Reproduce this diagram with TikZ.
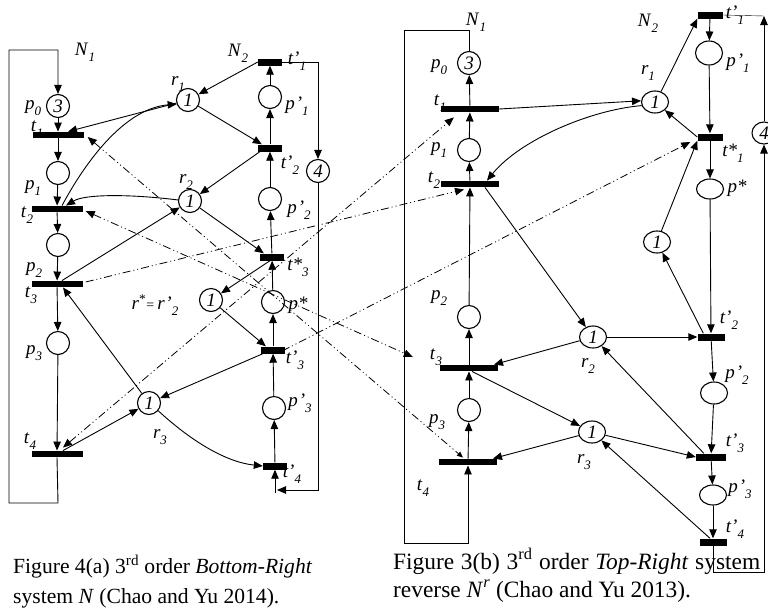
\documentclass[tikz,border=0pt]{standalone}
\usepackage{fontspec}
\setmainfont{Liberation Serif}
\usetikzlibrary{arrows.meta,shapes.geometric,calc}
\newcommand\lsb[1]{\raisebox{-0.3em}{\fontsize{13}{13}\selectfont\itshape #1}}
\newcommand\lbl[2]{\textit{#1}\lsb{#2}}
\begin{document}
\begin{tikzpicture}[x=1pt,y=-1pt,
  pl/.style={circle,draw,line width=1.1pt,minimum size=23pt,inner sep=0pt,font=\fontsize{19}{19}\selectfont\itshape},
  pe/.style={ellipse,draw,line width=1.1pt,minimum width=27pt,minimum height=22pt,inner sep=0pt,font=\fontsize{19}{19}\selectfont\itshape},
  bar/.style={fill=black,inner sep=0pt,minimum width=51pt,minimum height=6.5pt},
  wbar/.style={bar,minimum width=58pt},
  sbar/.style={fill=black,inner sep=0pt,minimum width=24pt,minimum height=7pt},
  lab/.style={inner sep=0pt,font=\fontsize{19}{19}\selectfont},
  captext/.style={inner sep=0pt,anchor=base west,font=\fontsize{21.6}{22}\selectfont},
  captextb/.style={inner sep=0pt,anchor=base west,font=\fontsize{23.4}{24}\selectfont},
  arc/.style={-{Triangle[length=9pt,width=7.5pt]},line width=0.9pt},
  dd/.style={line width=0.8pt,dash pattern=on 8pt off 3pt on 1pt off 3pt on 1pt off 3pt},
  ddto/.style={dd,-{Triangle[length=9pt,width=7.5pt]}},
  ddboth/.style={dd,{Triangle[length=9pt,width=7.5pt]}-{Triangle[length=9pt,width=7.5pt]}},
  ddboths/.style={dd,{Triangle[length=9pt,width=7.5pt]}-{Triangle[length=6pt,width=5pt]}}
]
\useasboundingbox (0,0) rectangle (768,614);

% ===== Left figure: N1 =====
\node[pl] (p0L) at (58,106) {3};
\node[bar] (t1L) at (58,135) {};
\node[pl] (p1L) at (58,173) {};
\node[bar] (t2L) at (57,209) {};
\node[pl] (p2L) at (58,245) {};
\node[bar] (t3L) at (57,284) {};
\node[pl] (p3L) at (58,343) {};
\node[bar] (t4L) at (57,454) {};
% resources
\node[pl] (r1L) at (188,100) {1};
\node[pl] (r2L) at (190,201) {1};
\node[pl] (rsL) at (211,300) {1};
\node[pl] (r3L) at (149,403) {1};
% N2 column
\node[sbar] (tp1L) at (270,62) {};
\node[pl] (pp1L) at (270,97) {};
\node[sbar] (tp2L) at (270,148) {};
\node[pl] (fourL) at (318,171) {4};
\node[pl] (pp2L) at (270,199) {};
\node[sbar] (ts3L) at (272,257) {};
\node[pl] (psL) at (273,302) {};
\node[sbar] (tp3L) at (273,350) {};
\node[pl] (pp3L) at (274,408) {};
\node[sbar] (tp4L) at (275,466) {};

% N1 column arcs
\draw[arc] (p0L) -- (t1L);
\draw[arc] (t1L) -- (p1L);
\draw[arc] (p1L) -- (t2L);
\draw[arc] (t2L) -- (p2L);
\draw[arc] (p2L) -- (t3L);
\draw[arc] (t3L) -- (p3L);
\draw[arc] (p3L) -- (t4L);
\coordinate (la) at (58,503);
\coordinate (lb) at (9,503);
\coordinate (lc) at (9,50);
\coordinate (ld) at (58,50);
\draw[arc] (t4L.south) -- (la) -- (lb) -- (lc) -- (ld) -- (p0L);

% N2 column arcs
\draw[arc] (tp4L) -- (pp3L);
\draw[arc] (pp3L) -- (tp3L);
\draw[arc] (tp3L) -- (psL);
\draw[arc] (psL) -- (ts3L);
\draw[arc] (ts3L) -- (pp2L);
\draw[arc] (pp2L) -- (tp2L);
\draw[arc] (tp2L) -- (pp1L);
\draw[arc] (pp1L) -- (tp1L);
\draw[arc] (tp1L.east) -| (fourL);
\coordinate (lf) at (277,490);
\coordinate (lg) at (275,493);
\draw[arc] (fourL) |- (lf);
\draw[arc] (lg) -- (tp4L);

% resource arcs (left)
\draw[arc] (r1L) -- ($(t1L.north)+(10,0)$);
\draw[arc] ($(t2L.north)+(5,0)$) .. controls (92,150) and (130,108) .. (r1L.200);
\draw[arc] (r2L.175) .. controls (130,194) and (85,194) .. ($(t2L.north)+(9,0)$);
\draw[arc] ($(t3L.north)+(5,0)$) -- (r2L);
\draw[arc] (r3L) -- ($(t3L.south)+(6,0)$);
\draw[arc] ($(t4L.north)+(6,0)$) -- (r3L);
\draw[arc] (tp1L.west) -- (r1L);
\draw[arc] (r1L) -- ($(tp2L.north west)+(4,0)$);
\draw[arc] ($(tp2L.south west)+(2,0)$) -- (r2L);
\draw[arc] (r2L) -- ($(ts3L.north west)+(4,0)$);
\draw[arc] ($(ts3L.south)+(-2,0)$) -- (rsL);
\draw[arc] (rsL) -- ($(tp3L.north west)+(5,0)$);
\draw[arc] ($(tp3L.south west)+(2,0)$) -- (r3L);
\draw[arc] (r3L.-40) .. controls (190,440) and (225,462) .. (tp4L.west);

% ===== Right figure =====
\node[pl] (p0R) at (469,63) {3};
\node[wbar] (t1R) at (470,109) {};
\node[pl] (p1R) at (469,150) {};
\node[wbar] (t2R) at (470,184) {};
\node[pl] (p2R) at (469,317) {};
\node[wbar] (t3R) at (469,368) {};
\node[pl] (p3R) at (469,410) {};
\node[wbar] (t4R) at (468,462) {};
\node[pe] (r1R) at (655,102) {1};
\node[pe] (r2R) at (593,337) {1};
\node[pe] (r3R) at (592,432) {1};
\node[pe] (rsR) at (657,242) {1};
\node[sbar,minimum width=25pt] (tp1R) at (710,15) {};
\node[pe,minimum height=24pt] (pp1R) at (709,53) {};
\node[sbar,minimum width=25pt] (ts1R) at (710,137) {};
\node[pe,minimum height=20pt] (psR) at (710,189) {};
\node[sbar,minimum width=27pt] (tp2R) at (711,337) {};
\node[pe] (pp2R) at (714,393) {};
\node[sbar,minimum width=30pt] (tp3R) at (711,457) {};
\node[pe,minimum height=20pt] (pp3R) at (713,495) {};
\node[sbar,minimum width=27pt] (tp4R) at (713,542) {};
\node[pe,minimum width=24pt] (fourR) at (764,133) {4};

% N1 column arcs (right)
\draw[arc] (t1R) -- (p0R);
\draw[arc] (p1R) -- (t1R);
\draw[arc] (t2R) -- (p1R);
\draw[arc] (p2R) -- (t2R);
\draw[arc] (t3R) -- (p2R);
\draw[arc] (p3R) -- (t3R);
\draw[arc] (t4R) -- (p3R);
\coordinate (ra) at (469,30);
\coordinate (rb) at (404,30);
\coordinate (rc) at (404,543);
\coordinate (rd) at (468,543);
\draw[arc] (p0R) -- (ra) -- (rb) -- (rc) -- (rd) -- (t4R);

% N2 column arcs (right)
\draw[arc] (tp1R) -- (pp1R);
\draw[arc] (pp1R) -- (ts1R);
\draw[arc] (ts1R) -- (psR);
\draw[arc] (psR) -- (tp2R);
\draw[arc] (tp2R) -- (pp2R);
\draw[arc] (pp2R) -- (tp3R);
\draw[arc] (tp3R) -- (pp3R);
\draw[arc] (pp3R) -- (tp4R);
\coordinate (re) at (713,572);
\coordinate (rf) at (764,572);
\coordinate (rg) at (764,16);
\draw[arc] (tp4R) -- (re) -- (rf) -- (fourR);
\draw[arc] (fourR) -- (rg);
\draw (rg) -- (tp1R.east);

% resource arcs (right)
\draw[arc] (t1R.east) -- (r1R.175);
\draw[arc] (r1R.195) .. controls (590,110) and (520,140) .. ($(t2R.north)+(17,0)$);
\draw[arc] (r1R.60) -- (tp1R.south west);
\draw[arc] (ts1R.west) -- (r1R);
\draw[arc] (rsR) -- (ts1R.south west);
\draw[arc] ($(tp2R.north west)+(6,0)$) -- (rsR);
\draw[arc] (r2R) -- (tp2R.west);
\draw[arc] ($(t2R.south)+(15,0)$) -- (r2R);
\draw[arc] (r2R) -- ($(t3R.north)+(25,0)$);
\draw[arc] ($(tp3R.north west)+(8,0)$) -- (r2R);
\draw[arc] ($(t3R.south)+(3,0)$) -- (r3R);
\draw[arc] (r3R) -- ($(t4R.north)+(25,0)$);
\draw[arc] (r3R) -- (tp3R.west);
\draw[arc] ($(tp4R.north)+(-3,0)$) -- (r3R);

% ===== dash-dot correspondences =====
\draw[ddboth] ($(t2L.east)+(3,2)$) -- ($(t3R.west)+(-27,-11)$);
\draw[ddboths] ($(t1L.east)+(4,2)$) -- ($(t4R.north)+(-5,-1)$);
\draw[ddboth] ($(t4L.north)+(6,-3)$) -- ($(t1R.south west)+(13,5)$);
\draw[ddto] ($(t3L.east)+(3,-2)$) -- ($(t2R.south)+(-6,2)$);
\draw[ddto] ($(tp3L.east)+(-3,1)$) -- ($(ts1R.west)+(-7,5)$);

% ===== labels left =====
\node[lab] (N1L) at (85,52) {\lbl{N}{1}};
\node[lab] (N2L) at (238,53) {\lbl{N}{2}};
\node[lab] (lp0L) at (33,108) {\lbl{p}{0}};
\node[lab] (lt1L) at (37,129) {\lbl{t}{1}};
\node[lab] (lp1L) at (33,188) {\lbl{p}{1}};
\node[lab] (lt2L) at (27,215) {\lbl{t}{2}};
\node[lab] (lp2L) at (34,270) {\lbl{p}{2}};
\node[lab] (lt3L) at (31,295) {\lbl{t}{3}};
\node[lab] (lp3L) at (34,353) {\lbl{p}{3}};
\node[lab] (lt4L) at (30,441) {\lbl{t}{4}};
\node[lab] (lr1L) at (178,84) {\lbl{r}{1}};
\node[lab] (lr2L) at (186,182) {\lbl{r}{2}};
\node[lab] (lr3L) at (160,437) {\lbl{r}{3}};
\node[lab] (lrsL) at (155,305) {\textit{r}\textsuperscript{*}{\fontsize{14}{14}\selectfont=}\,\lbl{r'}{2}};
\node[lab] (ltp1L) at (297,61) {\lbl{t'}{1}};
\node[lab] (lpp1L) at (297,106) {\lbl{p\kern1pt'}{1}};
\node[lab] (ltp2L) at (290,165) {\lbl{t'}{2}};
\node[lab] (lpp2L) at (299,210) {\lbl{p\kern1pt'}{2}};
\node[lab] (lts3L) at (298,267) {\lbl{t*}{3}};
\node[lab] (lpsL) at (298,305) {\textit{p*}};
\node[lab] (ltp3L) at (295,360) {\lbl{t'}{3}};
\node[lab] (lpp3L) at (300,403) {\lbl{p\kern1pt'}{3}};
\node[lab] (ltp4L) at (292,474) {\lbl{t'}{4}};

% ===== labels right =====
\node[lab] (N1R) at (476,22) {\lbl{N}{1}};
\node[lab] (N2R) at (648,23) {\lbl{N}{2}};
\node[lab] (lp0R) at (439,67) {\lbl{p}{0}};
\node[lab] (lt1R) at (440,103) {\lbl{t}{1}};
\node[lab] (lp1R) at (439,150) {\lbl{p}{1}};
\node[lab] (lt2R) at (434,180) {\lbl{t}{2}};
\node[lab] (lp2R) at (439,298) {\lbl{p}{2}};
\node[lab] (lt3R) at (436,357) {\lbl{t}{3}};
\node[lab] (lp3R) at (437,422) {\lbl{p}{3}};
\node[lab] (lt4R) at (423,488) {\lbl{t}{4}};
\node[lab] (lr1R) at (648,73) {\lbl{r}{1}};
\node[lab] (lr2R) at (588,366) {\lbl{r}{2}};
\node[lab] (lr3R) at (584,462) {\lbl{r}{3}};
\node[lab] (ltp1R) at (735,15) {\lbl{t'}{1}};
\node[lab] (lpp1R) at (738,63) {\lbl{p\kern1pt'}{1}};
\node[lab] (lts1R) at (733,153) {\lbl{t*}{1}};
\node[lab] (lpsR) at (737,188) {\textit{p*}};
\node[lab] (ltp2R) at (729,320) {\lbl{t'}{2}};
\node[lab] (lpp2R) at (737,375) {\lbl{p\kern1pt'}{2}};
\node[lab] (ltp3R) at (735,443) {\lbl{t'}{3}};
\node[lab] (lpp3R) at (740,489) {\lbl{p\kern1pt'}{3}};
\node[lab] (ltp4R) at (735,529) {\lbl{t'}{4}};

% ===== captions =====
\node[captext] (c1a) at (13,573) {Figure 4(a) 3\textsuperscript{rd} order \textit{Bottom-Right}};
\node[captext] (c1b) at (13,603) {system \textit{N} (Chao and Yu 2014).};
\node[captextb] (c2a) at (393,569) {\makebox[367pt][s]{Figure 3(b) 3\textsuperscript{rd} order \textit{Top-Right} system}};
\node[captextb] (c2b) at (393,597) {reverse \textit{N}\textsuperscript{\textit{r}} (Chao and Yu 2013).};
\end{tikzpicture}
\end{document}
